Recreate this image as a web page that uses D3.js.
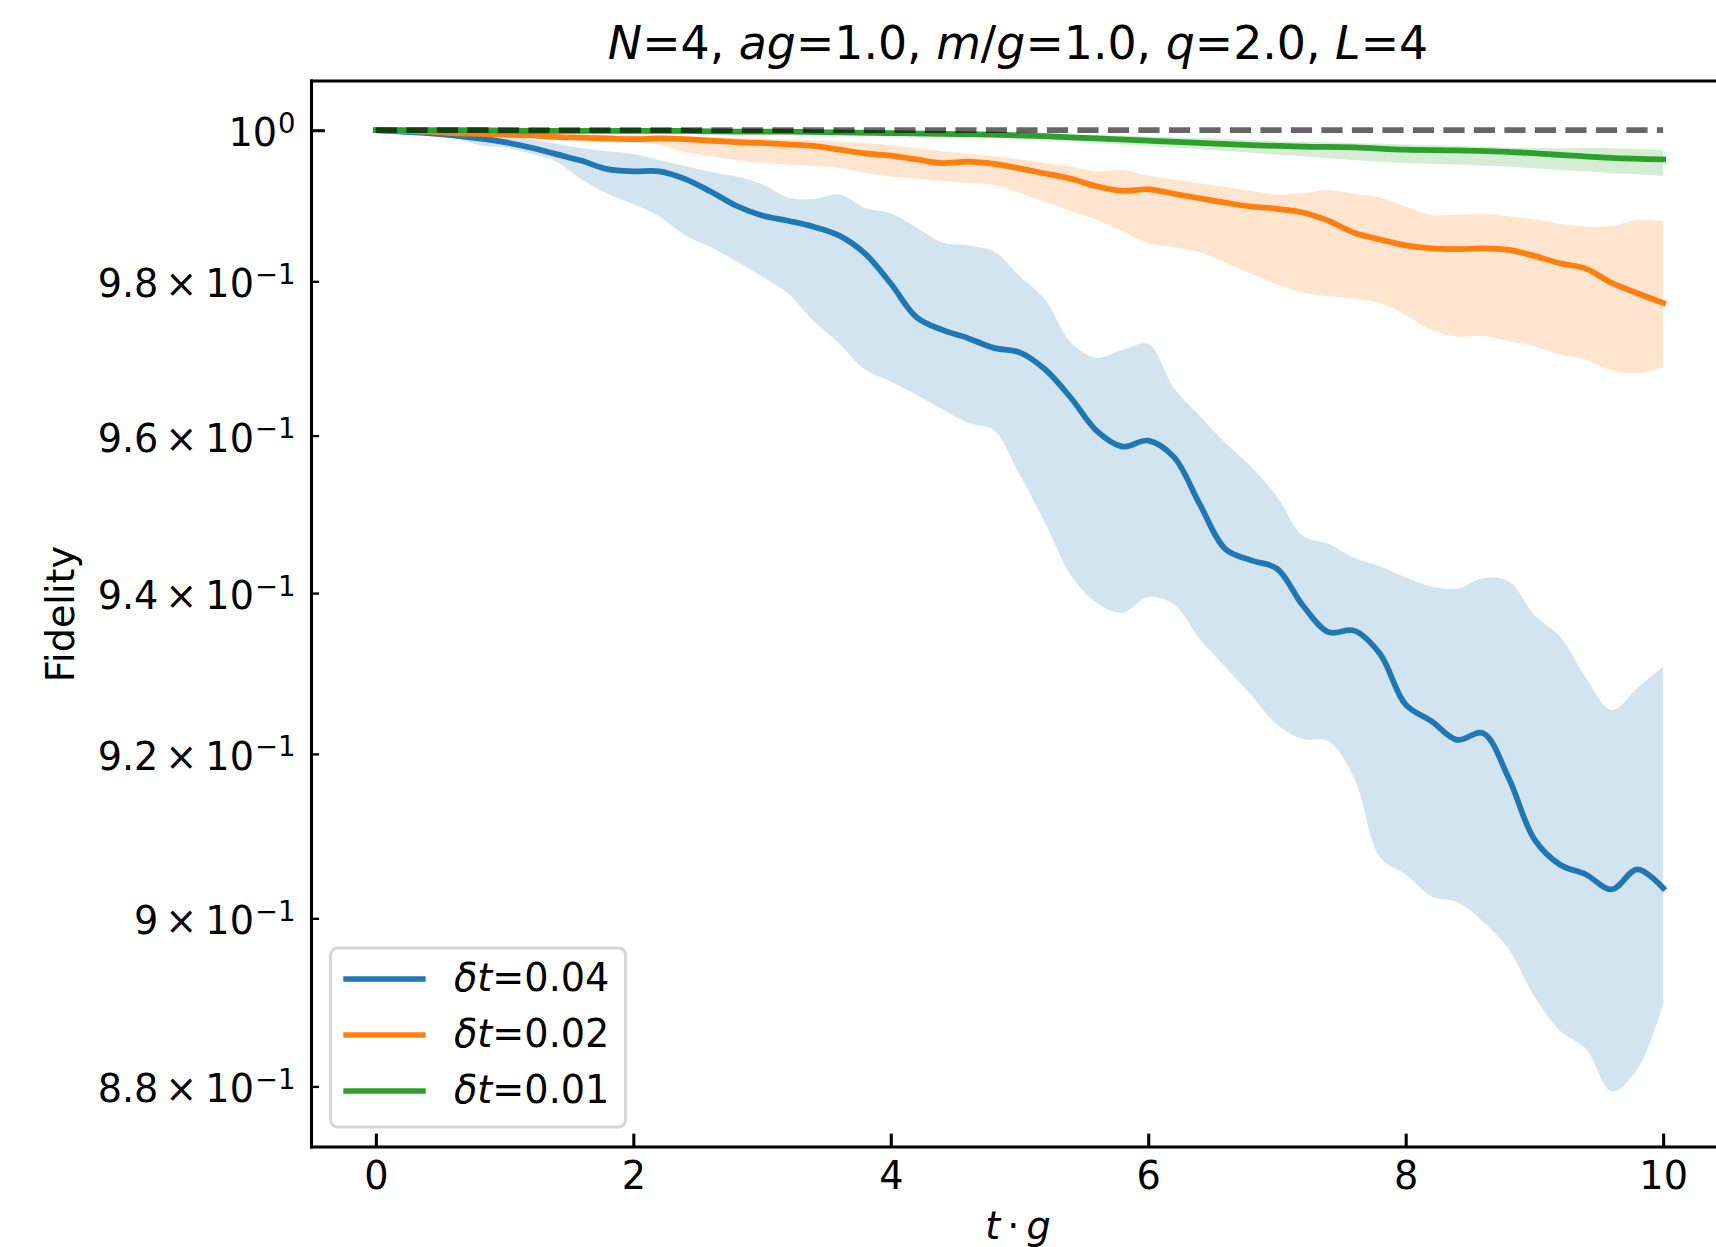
<!DOCTYPE html>
<html><head><meta charset="utf-8">
<script src="https://cdn.jsdelivr.net/npm/d3@7"></script>
<style>body{margin:0;background:#fff}text{white-space:pre}</style>
</head><body>
<svg id="c" width="1716" height="1247"></svg>
<script>
// ---------------- data ----------------
const tFine = [0,0.2,0.4,0.6,0.8,1,1.2,1.4,1.6,1.8,2,2.2,2.4,2.6,2.8,3,3.2,3.4,3.6,3.8,4,4.2,4.4,4.6,4.8,5,5.2,5.4,5.6,5.8,6,6.2,6.4,6.6,6.8,7,7.2,7.4,7.6,7.8,8,8.2,8.4,8.6,8.8,9,9.2,9.4,9.6,9.8,10];
const tCoarse = [0,0.4,0.8,1.2,1.6,2,2.4,2.8,3.2,3.6,4,4.4,4.8,5.2,5.6,6,6.4,6.8,7.2,7.6,8,8.4,8.8,9.2,9.6,10];

const blueMean = [1,0.99980,0.99960,0.99930,0.99890,0.99840,0.99770,0.99681,0.99591,0.99481,0.99452,0.99452,0.99352,0.99183,0.98995,0.98866,0.98797,0.98718,0.98600,0.98364,0.97971,0.97531,0.97365,0.97258,0.97132,0.97074,0.96851,0.96483,0.96060,0.95858,0.95935,0.95724,0.95123,0.94554,0.94412,0.94308,0.93847,0.93510,0.93529,0.93239,0.92608,0.92404,0.92173,0.92256,0.91704,0.90955,0.90647,0.90529,0.90348,0.90592,0.90366];
const blueHi = [1,1,0.99990,0.99980,0.99960,0.99930,0.99880,0.99820,0.99760,0.99720,0.99681,0.99601,0.99521,0.99442,0.99382,0.99283,0.99104,0.99084,0.99144,0.98965,0.98896,0.98708,0.98511,0.98472,0.98393,0.98069,0.97756,0.97200,0.97005,0.97103,0.97181,0.96609,0.96252,0.95906,0.95600,0.95218,0.94725,0.94620,0.94440,0.94336,0.94195,0.94082,0.94054,0.94186,0.94148,0.93725,0.93453,0.92942,0.92543,0.92812,0.93081];
const blueLo = [1,0.99975,0.99935,0.99900,0.99800,0.99770,0.99690,0.99581,0.99342,0.99154,0.99015,0.98857,0.98610,0.98452,0.98265,0.98059,0.97844,0.97482,0.97190,0.96851,0.96696,0.96522,0.96339,0.96165,0.96069,0.95504,0.94885,0.94224,0.93875,0.93753,0.93950,0.93856,0.93426,0.93071,0.92727,0.92358,0.92182,0.92155,0.91704,0.90737,0.90529,0.90267,0.90195,0.89961,0.89628,0.89065,0.88657,0.88444,0.87941,0.88206,0.88976];

const orangeMean = [1,0.99990,0.99980,0.99960,0.99950,0.99940,0.99930,0.99910,0.99900,0.99890,0.99880,0.99890,0.99880,0.99860,0.99840,0.99830,0.99810,0.99790,0.99740,0.99690,0.99661,0.99611,0.99561,0.99581,0.99551,0.99491,0.99422,0.99352,0.99253,0.99193,0.99213,0.99154,0.99094,0.99035,0.98985,0.98955,0.98906,0.98797,0.98639,0.98550,0.98472,0.98432,0.98423,0.98432,0.98413,0.98334,0.98236,0.98167,0.97979,0.97844,0.97716];
const orangeHi = [1,1,0.99990,0.99990,0.99980,0.99970,0.99960,0.99950,0.99940,0.99940,0.99930,0.99930,0.99920,0.99910,0.99900,0.99890,0.99880,0.99870,0.99850,0.99830,0.99800,0.99760,0.99720,0.99690,0.99651,0.99611,0.99561,0.99511,0.99452,0.99471,0.99392,0.99342,0.99293,0.99243,0.99193,0.99144,0.99164,0.99203,0.99154,0.99104,0.98985,0.98876,0.98876,0.98886,0.98857,0.98817,0.98758,0.98718,0.98728,0.98807,0.98787];
const orangeLo = [1,0.99990,0.99970,0.99950,0.99940,0.99920,0.99900,0.99880,0.99860,0.99840,0.99830,0.99810,0.99710,0.99651,0.99601,0.99561,0.99541,0.99521,0.99501,0.99432,0.99382,0.99352,0.99322,0.99293,0.99273,0.99164,0.99045,0.98926,0.98807,0.98659,0.98501,0.98452,0.98383,0.98245,0.98098,0.97961,0.97853,0.97804,0.97775,0.97716,0.97560,0.97365,0.97278,0.97287,0.97219,0.97151,0.97045,0.96977,0.96841,0.96802,0.96880];

const greenMean = [1,1,1,0.99990,0.99990,0.99990,0.99990,0.99980,0.99980,0.99970,0.99960,0.99950,0.99940,0.99920,0.99890,0.99860,0.99830,0.99800,0.99780,0.99770,0.99741,0.99731,0.99711,0.99671,0.99631,0.99611];
const greenHi = [1,1,1,1,0.99990,0.99990,0.99990,0.99990,0.99985,0.99985,0.99980,0.99975,0.99965,0.99955,0.99935,0.99915,0.99895,0.99865,0.99845,0.99830,0.99810,0.99790,0.99770,0.99760,0.99760,0.99740];
const greenLo = [1,1,0.99990,0.99980,0.99980,0.99970,0.99970,0.99960,0.99950,0.99940,0.99930,0.99920,0.99900,0.99870,0.99830,0.99790,0.99750,0.99700,0.99651,0.99601,0.99561,0.99541,0.99511,0.99471,0.99431,0.99392];

const refT = [0, 10];
const refF = [1, 1];

const seriesLabels = ["0.04", "0.02", "0.01"];
const xTicks = [0, 2, 4, 6, 8, 10];
const yTicks = [0.88, 0.90, 0.92, 0.94, 0.96, 0.98, 1.0];
const yTickMant = ["8.8", "9", "9.2", "9.4", "9.6", "9.8", ""];
const yTickExp = ["\u22121", "\u22121", "\u22121", "\u22121", "\u22121", "\u22121", "0"];

// ---------------- drawing ----------------
const FONT = "'DejaVu Sans', sans-serif";
const FS = 38.2, FST = 45.8, LW = 5.73;
const L = 311.5, R = 1727.5, T = 81, B = 1147;
const x = d3.scaleLinear().domain([-0.5, 10.5]).range([L, R]);
const y = d3.scaleLog().domain([0.8729, 1.0066]).range([B, T]);

const svg = d3.select("#c");
svg.append("rect").attr("width", 1716).attr("height", 1247).attr("fill", "#fff");
svg.append("defs").append("clipPath").attr("id", "clip")
  .append("rect").attr("x", L).attr("y", T).attr("width", R - L).attr("height", B - T);
const plot = svg.append("g").attr("clip-path", "url(#clip)");

const series = [
  {t: tFine, m: blueMean, lo: blueLo, hi: blueHi, c: "#1f77b4"},
  {t: tFine, m: orangeMean, lo: orangeLo, hi: orangeHi, c: "#ff7f0e"},
  {t: tCoarse, m: greenMean, lo: greenLo, hi: greenHi, c: "#2ca02c"}
];

const curve = d3.curveCatmullRom.alpha(0.5);
const area = d3.area().x(d => x(d[0])).y0(d => y(d[1])).y1(d => y(d[2])).curve(curve);
const line = d3.line().x(d => x(d[0])).y(d => y(d[1])).curve(curve);

series.forEach(s => {
  plot.append("path")
    .datum(s.t.map((t, i) => [t, s.lo[i], s.hi[i]]))
    .attr("d", area).attr("fill", s.c).attr("fill-opacity", 0.2).attr("stroke", "none");
});
series.forEach(s => {
  plot.append("path")
    .datum(s.t.map((t, i) => [t, s.m[i]]))
    .attr("d", line).attr("fill", "none").attr("stroke", s.c)
    .attr("stroke-width", LW).attr("stroke-linejoin", "round").attr("stroke-linecap", "square");
});
plot.append("path")
  .datum(refT.map((t, i) => [t, refF[i]]))
  .attr("d", d3.line().x(d => x(d[0])).y(d => y(d[1]))).attr("fill", "none").attr("stroke", "#000").attr("stroke-opacity", 0.6)
  .attr("stroke-width", LW).attr("stroke-dasharray", "21.2,9.3");

// x axis
const gx = svg.append("g").attr("transform", `translate(0,${B})`)
  .call(d3.axisBottom(x).tickValues(xTicks).tickSizeInner(-13.4).tickSizeOuter(0).tickPadding(0).tickFormat(d3.format("d")));
gx.attr("font-size", null).attr("font-family", null);
gx.select(".domain").remove();
gx.selectAll(".tick line").attr("stroke", "#000").attr("stroke-width", 3.06);
gx.selectAll(".tick text").attr("y", 41.8).attr("dy", null)
  .attr("font-size", FS).attr("font-family", FONT).attr("fill", "#000");

// y axis
const gy = svg.append("g").attr("transform", `translate(${L},0)`)
  .call(d3.axisLeft(y).tickValues(yTicks).tickSizeInner(-7.6).tickSizeOuter(0).tickFormat(() => ""));
gy.select(".domain").remove();
gy.selectAll(".tick line").attr("stroke", "#000")
  .attr("stroke-width", d => d === 1 ? 3.06 : 2.3)
  .attr("x2", d => d === 1 ? 13.4 : 7.6);
gy.selectAll(".tick text").remove();

yTicks.forEach((v, i) => {
  const t = svg.append("text").attr("x", 295.5).attr("y", y(v) + 16)
    .attr("text-anchor", "end").attr("font-family", FONT).attr("font-size", FS).attr("fill", "#000");
  if (yTickMant[i]) {
    t.append("tspan").text(yTickMant[i]);
    t.append("tspan").attr("dx", 7).text("\u00d7");
    t.append("tspan").attr("dx", 8).text("10");
  } else {
    t.append("tspan").text("10");
  }
  t.append("tspan").attr("dx", 1).attr("dy", -13.5).attr("font-size", 27.5).text(yTickExp[i]);
});

// spines
const sp = svg.append("g").attr("stroke", "#000").attr("stroke-width", 3.06).attr("stroke-linecap", "square");
sp.append("line").attr("x1", L).attr("x2", L).attr("y1", T).attr("y2", B);
sp.append("line").attr("x1", L).attr("x2", R).attr("y1", B).attr("y2", B);
sp.append("line").attr("x1", L).attr("x2", R).attr("y1", T).attr("y2", T);
sp.append("line").attr("x1", R).attr("x2", R).attr("y1", T).attr("y2", B);

// title
const title = svg.append("text").attr("x", 1018).attr("y", 58.5).attr("text-anchor", "middle")
  .attr("font-family", FONT).attr("font-size", FST).attr("fill", "#000");
[["N",1],["=4, ",0],["ag",1],["=1.0, ",0],["m",1],["/",0],["g",1],["=1.0, ",0],["q",1],["=2.0, ",0],["L",1],["=4",0]]
  .forEach(([s, it]) => title.append("tspan").attr("font-style", it ? "italic" : "normal").text(s));

// axis labels
const xl = svg.append("text").attr("x", 1018).attr("y", 1239).attr("text-anchor", "middle")
  .attr("font-family", FONT).attr("font-size", FS).attr("fill", "#000");
xl.append("tspan").attr("font-style", "italic").text("t");
xl.append("tspan").attr("dx", 7).text("\u00b7");
xl.append("tspan").attr("dx", 7).attr("font-style", "italic").text("g");

svg.append("text").attr("transform", "translate(74,614) rotate(-90)").attr("text-anchor", "middle")
  .attr("font-family", FONT).attr("font-size", FS).attr("fill", "#000").text("Fidelity");

// legend
const lg = svg.append("g");
lg.append("rect").attr("x", 330.5).attr("y", 948).attr("width", 295).attr("height", 179).attr("rx", 7)
  .attr("fill", "#fff").attr("fill-opacity", 0.8).attr("stroke", "#ccc").attr("stroke-opacity", 0.8).attr("stroke-width", 3.06);
series.forEach((s, i) => {
  const yr = 979 + 56 * i;
  lg.append("line").attr("x1", 343.3).attr("x2", 425.7).attr("y1", yr).attr("y2", yr)
    .attr("stroke", s.c).attr("stroke-width", LW);
  const tx = lg.append("text").attr("x", 454).attr("y", yr + 12)
    .attr("font-family", FONT).attr("font-size", FS).attr("fill", "#000");
  tx.append("tspan").attr("font-style", "italic").text("\u03b4t");
  tx.append("tspan").text("=" + seriesLabels[i]);
});
</script>
</body></html>
